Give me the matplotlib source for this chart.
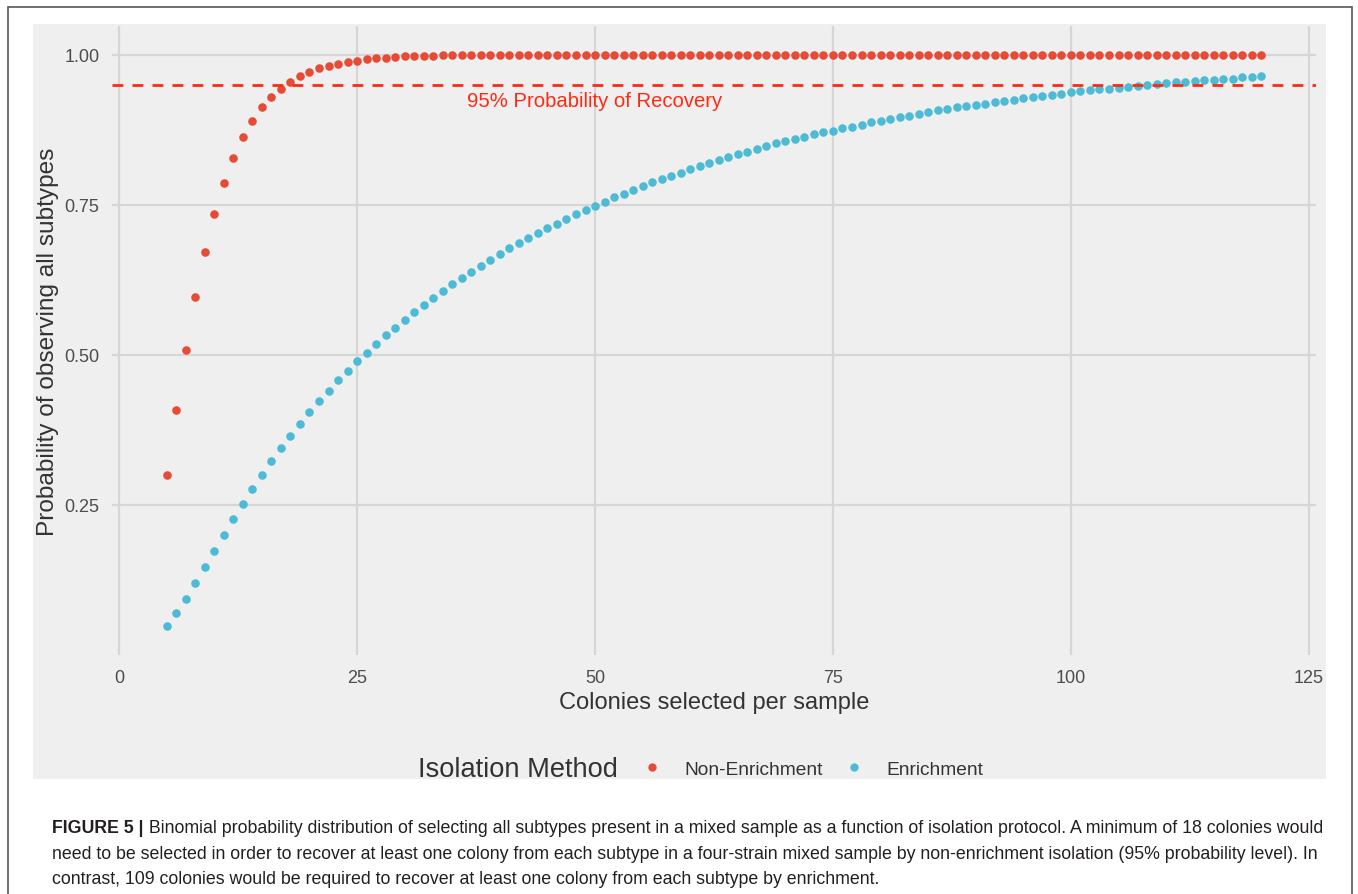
import numpy as np
import matplotlib
matplotlib.use("Agg")
import matplotlib.pyplot as plt
from matplotlib.patches import Rectangle
from matplotlib.lines import Line2D

plt.rcParams['font.family'] = ['Liberation Sans', 'DejaVu Sans']

# colonies picked per sample
colonies = list(range(5, 121))

# probability of observing all subtypes, non-enrichment isolation
non_enrich = [
    0.299, 0.407, 0.507, 0.596, 0.671, 0.734, 0.786, 0.828, 0.862, 0.890,
    0.912, 0.929, 0.943, 0.955, 0.964, 0.971, 0.977, 0.981, 0.985, 0.988,
    0.990, 0.992, 0.994, 0.995, 0.996, 0.997, 0.997, 0.998, 0.998, 0.999,
    0.999, 0.999, 0.999, 1.000, 1.000, 1.000, 1.000, 1.000, 1.000, 1.000,
    1.000, 1.000, 1.000, 1.000, 1.000, 1.000, 1.000, 1.000, 1.000, 1.000,
    1.000, 1.000, 1.000, 1.000, 1.000, 1.000, 1.000, 1.000, 1.000, 1.000,
    1.000, 1.000, 1.000, 1.000, 1.000, 1.000, 1.000, 1.000, 1.000, 1.000,
    1.000, 1.000, 1.000, 1.000, 1.000, 1.000, 1.000, 1.000, 1.000, 1.000,
    1.000, 1.000, 1.000, 1.000, 1.000, 1.000, 1.000, 1.000, 1.000, 1.000,
    1.000, 1.000, 1.000, 1.000, 1.000, 1.000, 1.000, 1.000, 1.000, 1.000,
    1.000, 1.000, 1.000, 1.000, 1.000, 1.000, 1.000, 1.000, 1.000, 1.000,
    1.000, 1.000, 1.000, 1.000, 1.000, 1.000,
]

# probability of observing all subtypes, enrichment isolation
enrich = [
    0.047, 0.069, 0.093, 0.119, 0.146, 0.173, 0.199, 0.226, 0.251, 0.276,
    0.299, 0.322, 0.344, 0.365, 0.385, 0.404, 0.422, 0.440, 0.457, 0.473,
    0.489, 0.503, 0.518, 0.532, 0.545, 0.558, 0.571, 0.583, 0.595, 0.606,
    0.617, 0.628, 0.638, 0.648, 0.658, 0.667, 0.677, 0.686, 0.694, 0.702,
    0.711, 0.718, 0.726, 0.734, 0.741, 0.748, 0.755, 0.762, 0.768, 0.774,
    0.781, 0.787, 0.792, 0.798, 0.803, 0.809, 0.814, 0.819, 0.824, 0.829,
    0.834, 0.838, 0.843, 0.847, 0.852, 0.856, 0.860, 0.863, 0.867, 0.871,
    0.873, 0.877, 0.880, 0.883, 0.887, 0.889, 0.893, 0.896, 0.898, 0.901,
    0.904, 0.907, 0.909, 0.912, 0.914, 0.916, 0.918, 0.921, 0.923, 0.925,
    0.927, 0.929, 0.931, 0.933, 0.935, 0.938, 0.939, 0.941, 0.942, 0.943,
    0.945, 0.946, 0.948, 0.949, 0.951, 0.952, 0.954, 0.955, 0.956, 0.957,
    0.958, 0.959, 0.960, 0.962, 0.962, 0.964,
]

series_names = ['Non-Enrichment', 'Enrichment']
series_colors = ['#E64B35', '#4DBBD5']
recovery_level = 0.95
recovery_label = '95% Probability of Recovery'
y_ticks = [0.25, 0.50, 0.75, 1.00]
x_ticks = [0, 25, 50, 75, 100, 125]

caption_bold = 'FIGURE 5 |'
caption_lines = [
    ' Binomial probability distribution of selecting all subtypes present in a mixed sample as a function of isolation protocol. A minimum of 18 colonies would',
    'need to be selected in order to recover at least one colony from each subtype in a four-strain mixed sample by non-enrichment isolation (95% probability level). In',
    'contrast, 109 colonies would be required to recover at least one colony from each subtype by enrichment.',
]

W, H = 1358, 895
fig = plt.figure(figsize=(W / 100, H / 100), dpi=100)
fig.patch.set_facecolor('white')

bg = '#EFEFEF'
grid_col = '#D6D6D6'

# outer frame and gray plot background (behind the axes)
fig.patches.append(Rectangle((8 / W, -0.01), 1344 / W, 1 - 8 / H + 0.01, transform=fig.transFigure,
                             fill=False, edgecolor='#555555', linewidth=1.2, zorder=-10))
fig.patches.append(Rectangle((33 / W, 1 - 780 / H), 1293 / W, 755 / H, transform=fig.transFigure,
                             facecolor=bg, edgecolor='none', zorder=-10))

ax = fig.add_axes([112 / W, 1 - 656 / H, 1204 / W, 629 / H])
ax.set_facecolor(bg)
for s in ax.spines.values():
    s.set_visible(False)

ax.scatter(colonies, non_enrich, s=38, color=series_colors[0], linewidths=0, zorder=3)
ax.scatter(colonies, enrich, s=38, color=series_colors[1], linewidths=0, zorder=3)
ax.axhline(recovery_level, color='#FF2A12', linewidth=2.0, linestyle=(0, (3.9, 3.3)), zorder=4)
ax.text(50, 0.923, recovery_label, color='#FF2A12', fontsize=14.6, ha='center', va='center')

# ggplot style 5% expansion
allv = non_enrich + enrich
xr = max(colonies) - min(colonies)
yr = max(allv) - min(allv)
ax.set_xlim(min(colonies) - 0.05 * xr, max(colonies) + 0.05 * xr)
ax.set_ylim(min(allv) - 0.05 * yr, max(allv) + 0.05 * yr)

ax.set_xticks(x_ticks)
ax.set_yticks(y_ticks)
ax.set_yticklabels(['%.2f' % v for v in y_ticks])
ax.grid(True, color=grid_col, linewidth=1.6)
ax.set_axisbelow(True)
ax.tick_params(length=0, labelsize=13, labelcolor='#4D4D4D', pad=9)
ax.tick_params(axis='x', pad=10)

ax.set_xlabel('Colonies selected per sample', fontsize=17, color='#333333', labelpad=4)
ax.set_ylabel('Probability of observing all subtypes', fontsize=17.6, color='#333333', labelpad=4)

# legend along the bottom
fig.text(418 / W, 1 - 770 / H, 'Isolation Method', fontsize=19.6, color='#333333', ha='left', va='center')
handles = [Line2D([], [], linestyle='none', marker='o', markersize=6, markeredgewidth=0,
                  color=c) for c in series_colors]
fig.legend(handles, series_names, loc='center left', bbox_to_anchor=(640 / W, 1 - 770 / H),
           ncol=2, frameon=False, fontsize=13.8, handlelength=1.2, handletextpad=1.1,
           columnspacing=1.05, borderaxespad=0, borderpad=0, labelcolor='#333333')

# caption
cap_size = 12.8
renderer = fig.canvas.get_renderer()
t0 = fig.text(52 / W, 1 - 829 / H, caption_bold, fontsize=cap_size, fontweight='bold',
              color='#231F20', va='center', ha='left')
bb = t0.get_window_extent(renderer)
fig.text(bb.x1 / W, 1 - 829 / H, caption_lines[0], fontsize=cap_size,
         color='#231F20', va='center', ha='left')
fig.text(52 / W, 1 - 855 / H, caption_lines[1], fontsize=cap_size,
         color='#231F20', va='center', ha='left')
fig.text(52 / W, 1 - 880 / H, caption_lines[2], fontsize=cap_size,
         color='#231F20', va='center', ha='left')

fig.savefig('out.png', dpi=100)
